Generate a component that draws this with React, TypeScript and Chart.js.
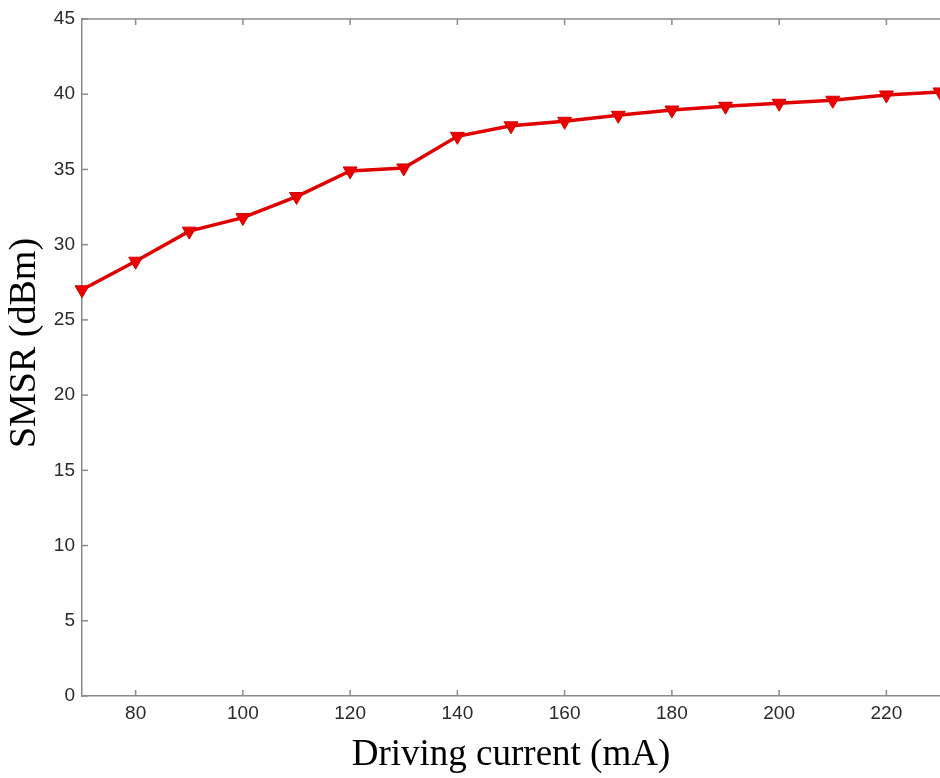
import React, { useEffect, useRef } from "react";
import { Chart, registerables } from "chart.js";

Chart.register(...registerables);

const currents = [70, 80, 90, 100, 110, 120, 130, 140, 150, 160, 170, 180, 190, 200, 210, 220, 230];
const smsr = [27.0, 28.9, 30.9, 31.8, 33.2, 34.9, 35.1, 37.2, 37.9, 38.2, 38.6, 38.95, 39.2, 39.4, 39.6, 39.95, 40.15];
const xTickLabels = [80, 100, 120, 140, 160, 180, 200, 220];
const yTicks = [0, 5, 10, 15, 20, 25, 30, 35, 40, 45];
const yTitle = "SMSR (dBm)";

const AXIS_COLOR = "#8a8a8a";

const inwardTicks = {
  id: "inwardTicks",
  afterDraw(chart: any) {
    const { ctx, chartArea } = chart;
    const xs = chart.scales.x;
    const ys = chart.scales.y;
    ctx.save();
    ctx.strokeStyle = AXIS_COLOR;
    ctx.lineWidth = 1.5;
    ctx.beginPath();
    ctx.moveTo(chartArea.left, chartArea.top);
    ctx.lineTo(chartArea.right, chartArea.top);
    ctx.stroke();
    const len = 6;
    xTickLabels.forEach((v) => {
      const px = xs.getPixelForValue(v);
      ctx.beginPath();
      ctx.moveTo(px, chartArea.bottom);
      ctx.lineTo(px, chartArea.bottom - len);
      ctx.moveTo(px, chartArea.top);
      ctx.lineTo(px, chartArea.top + len);
      ctx.stroke();
    });
    yTicks.forEach((v) => {
      const py = ys.getPixelForValue(v);
      ctx.beginPath();
      ctx.moveTo(chartArea.left, py);
      ctx.lineTo(chartArea.left + len, py);
      ctx.stroke();
    });
    ctx.translate(25, 343);
    ctx.rotate(-Math.PI / 2);
    ctx.fillStyle = "#000";
    ctx.font = "38px 'Liberation Serif'";
    ctx.textAlign = "center";
    ctx.textBaseline = "middle";
    ctx.fillText(yTitle, 0, 0);
    ctx.restore();
  },
};

export default function App() {
  const ref = useRef<HTMLCanvasElement>(null);
  useEffect(() => {
    if (!ref.current) return;
    const chart = new Chart(ref.current, {
      type: "line",
      data: {
        datasets: [
          {
            data: currents.map((c, i) => ({ x: c, y: smsr[i] })),
            borderColor: "#e00000",
            backgroundColor: "#ee0000",
            borderWidth: 3.5,
            pointStyle: "triangle",
            rotation: 180,
            pointRadius: 8,
            pointBorderColor: "#d00000",
            pointBorderWidth: 1,
            pointBackgroundColor: "#ee0000",
            tension: 0,
            clip: false,
          },
        ],
      },
      options: {
        responsive: false,
        animation: false,
        layout: { autoPadding: false, padding: { top: 19, right: 0, left: 0, bottom: 0 } },
        plugins: { legend: { display: false }, tooltip: { enabled: false } },
        scales: {
          x: {
            type: "linear",
            min: 70,
            max: 230,
            afterFit: (s: any) => {
              s.height = 82;
              s.paddingLeft = 0;
              s.paddingRight = 0;
            },
            afterBuildTicks: (s: any) => {
              s.ticks = [70, ...xTickLabels, 230].map((v) => ({ value: v }));
            },
            ticks: {
              callback: (v: any) => (xTickLabels.includes(Number(v)) ? String(v) : ""),
              font: { family: "Liberation Sans", size: 19 },
              color: "#2a2a2a",
              padding: 6,
              maxRotation: 0,
              autoSkip: false,
            },
            grid: { display: false, drawTicks: false },
            border: { display: true, color: AXIS_COLOR, width: 1.5 },
            title: {
              display: true,
              text: "Driving current (mA)",
              font: { family: "Liberation Serif", size: 37 },
              color: "#000",
              padding: { top: 0, bottom: 1 },
            },
          },
          y: {
            min: 0,
            max: 45,
            afterFit: (s: any) => {
              s.width = 82;
              s.paddingTop = 0;
              s.paddingBottom = 0;
            },
            afterBuildTicks: (s: any) => {
              s.ticks = yTicks.map((v) => ({ value: v }));
            },
            ticks: {
              font: { family: "Liberation Sans", size: 19 },
              color: "#2a2a2a",
              padding: 7,
            },
            grid: { display: false, drawTicks: false },
            border: { display: true, color: AXIS_COLOR, width: 1.5 },
            title: { display: false },
          },
        },
      },
      plugins: [inwardTicks],
    });
    return () => chart.destroy();
  }, []);
  return (
    <div style={{ position: "absolute", left: 0, top: 0, width: 940, height: 778, background: "#fff" }}>
      <canvas ref={ref} width={940} height={778} />
    </div>
  );
}
